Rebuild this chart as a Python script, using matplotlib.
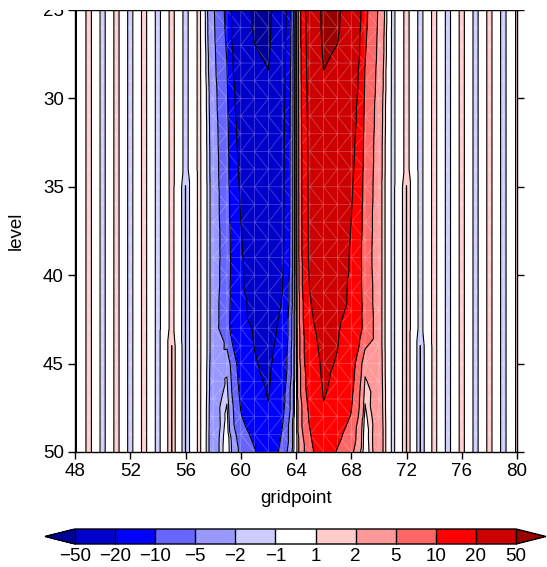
import numpy as np
import matplotlib
matplotlib.use('Agg')
import matplotlib.pyplot as plt
import matplotlib.tri as mtri
from matplotlib.colors import ListedColormap, BoundaryNorm
from matplotlib.patches import Rectangle

plt.rcParams['font.family'] = ['Liberation Sans', 'DejaVu Sans']

gridpoint = np.arange(48, 81)
level = np.arange(25, 51)

# 2-gridpoint wave, columns 48..80 (jet columns are replaced below)
background = [-1.3, 1.6, -1.6, 1.6, -1.6, 1.6, -1.6, 1.6, -1.6, 1.5, -1.6,
              1.6, -1.6, 1.6, -1.6, 1.6, 0.5, -1.6, 1.6, -1.6, 1.6, -1.6,
              1.6, -1.5, 1.6, -1.6, 1.6, -1.6, 1.6, -1.6, 1.6, -1.6, 1.3]

# jet region, columns 55..73 (rows = level 25..50)
jet_cols = np.arange(55, 74)
jet = np.array([
    # 55    56    57    58     59     60     61     62     63    64    65    66    67    68    69    70    71    72    73
    [1.6, -1.6, 1.5, -4.4, -11.4, -40.0, -53.0, -56.0, -28.6, 0.5, 28.6, 56.0, 53.0, 40.0, 11.4, 4.4, -1.5, 1.6, -1.6],
    [1.6, -1.6, 1.5, -4.2, -11.0, -37.5, -52.5, -55.0, -27.8, 0.5, 27.8, 55.0, 52.5, 37.5, 11.0, 4.2, -1.5, 1.6, -1.6],
    [1.6, -1.6, 1.5, -4.0, -10.5, -35.0, -49.8, -53.5, -27.0, 0.5, 27.0, 53.5, 49.8, 35.0, 10.5, 4.0, -1.5, 1.6, -1.6],
    [1.6, -1.6, 1.5, -3.8, -10.0, -32.5, -47.0, -51.0, -26.3, 0.5, 26.3, 51.0, 47.0, 32.5, 10.0, 3.8, -1.5, 1.6, -1.6],
    [1.6, -1.6, 1.5, -3.6, -9.5, -30.0, -44.0, -48.5, -25.6, 0.5, 25.6, 48.5, 44.0, 30.0, 9.5, 3.6, -1.5, 1.6, -1.6],
    [1.6, -1.6, 1.5, -3.4, -9.0, -28.0, -41.0, -46.0, -25.0, 0.5, 25.0, 46.0, 41.0, 28.0, 9.0, 3.4, -1.5, 1.6, -1.6],
    [1.6, -1.6, 1.5, -3.3, -8.6, -26.5, -38.5, -44.0, -24.4, 0.5, 24.4, 44.0, 38.5, 26.5, 8.6, 3.3, -1.5, 1.6, -1.6],
    [1.6, -1.6, 1.5, -3.2, -8.3, -25.0, -36.0, -42.0, -23.9, 0.5, 23.9, 42.0, 36.0, 25.0, 8.3, 3.2, -1.5, 1.6, -1.6],
    [1.6, -1.6, 1.5, -3.1, -8.1, -23.8, -34.8, -40.5, -23.6, 0.5, 23.6, 40.5, 34.8, 23.8, 8.1, 3.1, -1.5, 1.6, -1.6],
    [1.6, -1.6, 1.5, -3.1, -7.9, -22.7, -33.6, -39.0, -23.4, 0.5, 23.4, 39.0, 33.6, 22.7, 7.9, 3.1, -1.5, 1.6, -1.6],
    [1.6, -2.03, 1.5, -3.0, -7.7, -21.6, -32.4, -37.5, -23.2, 0.5, 23.2, 37.5, 32.4, 21.6, 7.7, 3.0, -1.5, 2.03, -1.6],
    [1.6, -2.03, 1.5, -3.0, -7.5, -20.7, -31.2, -36.0, -23.0, 0.5, 23.0, 36.0, 31.2, 20.7, 7.5, 3.0, -1.5, 2.03, -1.6],
    [1.6, -2.03, 1.5, -3.0, -7.3, -19.9, -30.1, -34.5, -22.8, 0.5, 22.8, 34.5, 30.1, 19.9, 7.3, 3.0, -1.5, 2.03, -1.6],
    [1.6, -2.03, 1.5, -3.0, -7.1, -19.2, -29.0, -33.0, -22.6, 0.5, 22.6, 33.0, 29.0, 19.2, 7.1, 3.0, -1.5, 2.03, -1.6],
    [1.6, -2.03, 1.5, -3.0, -7.0, -18.5, -28.0, -31.5, -22.3, 0.5, 22.3, 31.5, 28.0, 18.5, 7.0, 3.0, -1.5, 2.03, -1.6],
    [1.6, -2.03, 1.5, -3.0, -7.2, -18.3, -26.5, -30.0, -21.2, 0.5, 21.2, 30.0, 26.5, 18.3, 7.2, 3.0, -1.5, 2.03, -1.6],
    [1.6, -2.03, 1.5, -3.0, -7.5, -18.0, -24.5, -28.5, -20.0, 0.5, 20.0, 28.5, 24.5, 18.0, 7.5, 3.0, -1.5, 2.03, -1.6],
    [1.6, -2.03, 1.5, -3.0, -7.8, -17.8, -22.5, -26.0, -18.8, 0.5, 18.8, 26.0, 22.5, 17.8, 7.8, 3.0, -1.5, 2.03, -1.6],
    [1.6, -2.03, 1.5, -3.0, -8.0, -17.5, -20.6, -24.0, -17.5, 0.5, 17.5, 24.0, 20.6, 17.5, 8.0, 3.0, -1.5, 2.03, -1.6],
    [2.01, -2.03, 1.5, -3.0, -5.5, -16.0, -20.2, -22.5, -16.5, 0.5, 16.5, 22.5, 20.2, 16.0, 5.5, 3.0, -1.5, 2.03, -2.01],
    [2.03, -2.03, 1.5, -3.1, -2.6, -13.0, -19.5, -21.5, -15.5, 0.5, 15.5, 21.5, 19.5, 13.0, 2.6, 3.1, -1.5, 2.03, -2.03],
    [2.03, -2.03, 1.5, -3.2, -1.8, -12.0, -18.5, -21.0, -14.0, 0.5, 14.0, 21.0, 18.5, 12.0, 1.8, 3.2, -1.5, 2.03, -2.03],
    [2.03, -2.03, 1.5, -3.3, -1.15, -10.8, -17.0, -20.2, -12.5, 0.5, 12.5, 20.2, 17.0, 10.8, 1.15, 3.3, -1.5, 2.03, -2.03],
    [2.03, -2.03, 1.5, -3.4, -0.6, -9.6, -14.0, -18.5, -11.0, 0.5, 11.0, 18.5, 14.0, 9.6, 0.6, 3.4, -1.5, 2.03, -2.03],
    [2.03, -2.03, 1.5, -3.5, -0.2, -7.5, -11.5, -16.8, -9.5, 0.5, 9.5, 16.8, 11.5, 7.5, 0.2, 3.5, -1.5, 2.03, -2.03],
    [2.03, -2.03, 1.5, -3.5, 0.0, -6.0, -9.5, -15.0, -8.0, 0.5, 8.0, 15.0, 9.5, 6.0, 0.0, 3.5, -1.5, 2.03, -2.03],
])

levels = [-50, -20, -10, -5, -2, -1, 1, 2, 5, 10, 20, 50]
level_labels = ['\u221250', '\u221220', '\u221210', '\u22125', '\u22122', '\u22121',
                '1', '2', '5', '10', '20', '50']
colors = ['#000099', '#0000cc', '#0000ff', '#6666ff', '#9999ff', '#ccccff', '#ffffff',
          '#ffcccc', '#ff9999', '#ff6666', '#ff0000', '#cc0000', '#990000']

# build field on the mesh
field = np.tile(np.array(background, float), (len(level), 1))
i0 = jet_cols[0] - gridpoint[0]
field[:, i0:i0 + len(jet_cols)] = jet

X, Y = np.meshgrid(gridpoint, level)
ny, nx = X.shape
tris = []
for i in range(ny - 1):
    for j in range(nx - 1):
        a = i * nx + j
        b = a + 1
        c = a + nx
        d = c + 1
        if i % 2 == 0:
            tris += [[a, b, d], [a, d, c]]
        else:
            tris += [[a, b, c], [b, d, c]]
triang = mtri.Triangulation(X.ravel(), Y.ravel(), tris)
z = field.ravel()

cmap = ListedColormap(colors[1:-1])
cmap.set_under(colors[0])
cmap.set_over(colors[-1])
norm = BoundaryNorm(levels, cmap.N)

fig = plt.figure(figsize=(5.47, 5.67), dpi=100)
ax = fig.add_axes([75/547, 1 - 452/567, 442/547, 442/567])

cf = ax.tricontourf(triang, z, levels=levels, cmap=cmap, norm=norm, extend='both')
ax.triplot(triang, color='white', lw=0.5, alpha=0.3)
ax.tricontour(triang, z, levels=levels, colors='k', linewidths=0.8, linestyles='solid')

ax.set_xlim(48, 80)
ax.set_ylim(50, 25)
ax.set_xticks(range(48, 81, 4))
ax.set_yticks(range(25, 51, 5))
ax.tick_params(direction='out', length=5, width=1, labelsize=13.5, right=True, top=False, pad=3)
for s in ax.spines.values():
    s.set_linewidth(1.0)
ax.set_xlabel('gridpoint', fontsize=13.5, labelpad=7)
ax.set_ylabel('level', fontsize=13.5, labelpad=13)

cax = fig.add_axes([45/547, 1 - 544/567, 501/547, 15/567])
cb = fig.colorbar(cf, cax=cax, orientation='horizontal', extendfrac=30/442,
                  drawedges=True, ticks=levels)
cb.set_ticklabels(level_labels)
cb.ax.tick_params(length=0, labelsize=13.5, pad=3)
cb.outline.set_linewidth(1.0)
cb.dividers.set_linewidth(1.0)

# top of the frame is clipped in the original
fig.add_artist(Rectangle((0, 1 - 9.5/567), 1, 9.5/567, transform=fig.transFigure,
                         facecolor='white', edgecolor='none', zorder=10))

fig.savefig('out.png', dpi=100)
